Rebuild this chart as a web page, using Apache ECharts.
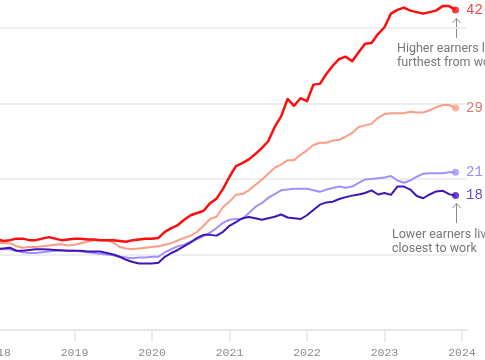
<!DOCTYPE html>
<html>
<head>
<meta charset="utf-8">
<script src="https://cdn.jsdelivr.net/npm/echarts@6/dist/echarts.min.js"></script>
<style>
html,body{margin:0;padding:0;background:#fff;}
#chart{width:485px;height:360px;}
</style>
</head>
<body>
<div id="chart"></div>
<script>
// Monthly data, Jan 2018 .. Dec 2023
const startYear = 2018;
const xTickValues = [2018,2019,2020,2021,2022,2023,2024];
const xTickLabels = ['2018','2019','2020','2021','2022','2023','2024'];

const highest = [12.0,11.8,11.9,12.1,12.1,11.9,11.9,12.1,12.3,12.1,11.9,12.0,
  12.1,12.1,12.0,12.0,11.9,11.9,11.9,11.8,11.7,11.9,12.0,12.1,
  12.1,12.2,13.0,13.5,13.9,14.6,15.2,15.5,15.8,16.8,17.4,18.7,
  20.3,21.7,22.1,22.6,23.3,24.1,25.0,26.9,28.3,30.6,29.7,30.7,
  30.3,32.5,32.6,33.9,35.0,35.9,36.2,35.6,36.8,37.9,38.0,39.2,
  40.1,41.9,42.4,42.7,42.3,42.1,41.9,42.1,42.3,42.9,42.9,42.4];

const upperMid = [11.6,11.5,11.5,11.1,10.9,11.0,11.0,11.1,11.2,11.3,11.35,11.2,
  11.3,11.5,11.7,11.9,11.9,11.85,11.6,11.0,10.8,10.7,10.8,10.9,
  11.0,11.1,11.3,11.5,11.85,12.2,12.5,13.0,13.8,14.7,15.0,16.3,
  17.0,17.9,18.0,18.5,19.2,19.9,20.7,21.5,21.9,22.5,22.5,23.2,
  23.8,24.5,24.8,24.8,25.1,25.2,25.6,26.1,26.9,27.1,27.3,28.1,
  28.6,28.7,28.7,28.7,28.9,28.8,28.8,29.1,29.5,29.8,29.8,29.4];

const lowerMid = [10.7,10.7,10.7,10.5,10.3,10.2,10.2,10.3,10.4,10.5,10.5,10.5,
  10.5,10.4,10.3,10.2,10.1,10.0,9.9,9.7,9.6,9.5,9.6,9.6,
  9.7,9.7,10.3,10.7,11.1,11.3,11.7,12.05,12.45,12.9,13.5,14.2,
  14.6,14.7,14.7,15.5,16.3,16.8,17.5,18.0,18.5,18.6,18.7,18.7,
  18.7,18.5,18.3,18.6,18.8,19.0,18.85,19.0,19.5,19.95,20.0,20.1,
  20.2,20.4,19.8,19.5,19.8,20.3,20.7,20.75,20.75,20.75,20.9,20.9];

const lowest = [10.7,10.8,10.9,10.5,10.5,10.6,10.7,10.7,10.66,10.6,10.55,10.5,
  10.5,10.5,10.4,10.4,10.4,10.2,10.0,9.7,9.3,9.0,8.8,8.8,
  8.8,8.9,9.7,10.2,10.6,11.1,11.6,12.2,12.6,12.6,12.5,13.0,
  13.8,14.3,14.8,14.97,14.8,14.6,14.8,15.0,15.3,14.9,14.8,14.7,
  15.2,15.9,16.6,16.9,17.0,17.35,17.6,17.8,17.95,18.15,18.5,17.95,
  18.15,17.9,19.0,19.0,18.6,17.75,17.45,17.95,18.35,18.45,18.0,17.8];

const seriesDefs = [
  {name:'Lower-middle', data: lowerMid, color:'#a58eff', label:'#8a6df5', width:2},
  {name:'Upper-middle', data: upperMid, color:'#ff9c87', label:'#d0583f', width:2},
  {name:'Lowest', data: lowest, color:'#3f15b6', label:'#3f15b6', width:2},
  {name:'Highest', data: highest, color:'#ff0d0d', label:'#f01010', width:2.5}
];

function toPairs(arr){ return arr.map((v,i)=>[startYear + i/12, v]); }

const series = [];
seriesDefs.forEach(d=>{
  const pts = toPairs(d.data);
  series.push({
    type:'line', name:d.name, data:pts, showSymbol:false, symbol:'none',
    clip:false, silent:true, animation:false,
    lineStyle:{color:d.color, width:d.width, join:'round'}
  });
  series.push({
    type:'scatter', data:[pts[pts.length-1]], symbol:'circle', symbolSize:7,
    itemStyle:{color:d.color}, silent:true, animation:false, clip:false, z:5,
    label:{show:true, position:'right', distance:7,
      formatter:(p)=>String(Math.round(p.value[1])),
      color:d.label, fontFamily:'Liberation Mono', fontSize:14}
  });
});

const chart = echarts.init(document.getElementById('chart'), null, {renderer:'canvas'});
chart.setOption({
  backgroundColor:'#ffffff',
  animation:false,
  grid:{left:-3, right:18, top:28, bottom:30, containLabel:false, outerBoundsMode:'none'},
  xAxis:{
    type:'value', min:2018, max:2024.065,
    axisLine:{show:true, lineStyle:{color:'#e6e6e6', width:2}},
    axisTick:{show:true, length:12, customValues:xTickValues, lineStyle:{color:'#e6e6e6', width:1.5}},
    axisLabel:{margin:17, color:'#8a8a8a', fontFamily:'Liberation Mono', fontSize:11.5,
      customValues:xTickValues,
      formatter:(v)=>xTickLabels[xTickValues.indexOf(Math.round(v))] || ''},
    splitLine:{show:false}
  },
  yAxis:{
    type:'value', min:0, max:40, interval:10,
    axisLine:{show:false}, axisTick:{show:false}, axisLabel:{show:false},
    splitLine:{show:true, lineStyle:{color:'#e8e8e8', width:1.5}}
  },
  series: series,
  graphic:[
    {type:'line', shape:{x1:456.5, y1:19, x2:456.5, y2:38}, style:{stroke:'#8a8a8a', lineWidth:1}},
    {type:'polyline', shape:{points:[[452.5,23],[456.5,18.5],[460.5,23]]}, style:{stroke:'#8a8a8a', lineWidth:1, fill:null}},
    {type:'text', left:397, top:42, style:{text:'Higher earners live\nfurthest from work', fill:'#777777', font:'12.5px Roboto', lineHeight:14}},
    {type:'line', shape:{x1:456.5, y1:204, x2:456.5, y2:223}, style:{stroke:'#8a8a8a', lineWidth:1}},
    {type:'polyline', shape:{points:[[452.5,208],[456.5,203.5],[460.5,208]]}, style:{stroke:'#8a8a8a', lineWidth:1, fill:null}},
    {type:'text', left:391, top:228, style:{text:'Lower earners live\nclosest to work', fill:'#777777', font:'12.5px Roboto', lineHeight:14, backgroundColor:'#ffffff', padding:[0,0,0,1]}}
  ]
});
</script>
</body>
</html>
